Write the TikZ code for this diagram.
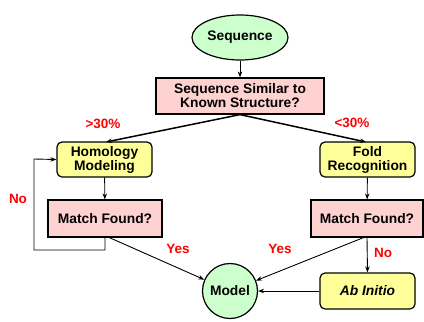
\documentclass[tikz,border=0pt]{standalone}
\usepackage{fontspec}
\setmainfont{Liberation Sans}
\usetikzlibrary{arrows.meta,shapes.geometric}
\definecolor{pgreen}{RGB}{204,255,204}
\definecolor{ppink}{RGB}{255,210,210}
\definecolor{pyellow}{RGB}{255,255,153}
\tikzset{
  x=1pt,y=-1pt,
  base/.style={draw=black,line width=1.2pt,font=\fontsize{13.8}{15}\selectfont\bfseries,align=center,inner sep=0pt},
  oval/.style={base,ellipse,fill=pgreen,minimum width=96pt,minimum height=45pt},
  circ/.style={base,circle,fill=pgreen,minimum size=55pt},
  decbox/.style={base,rectangle,fill=ppink},
  procbox/.style={base,rectangle,rounded corners=5pt,fill=pyellow,minimum width=95pt},
  arr/.style={-{Stealth[length=6pt,width=4.5pt]},line width=0.9pt},
  thick arr/.style={-{Stealth[length=6pt,width=4.5pt]},line width=1.5pt},
  lbl/.style={text=red,font=\fontsize{13.5}{15}\selectfont\bfseries,inner sep=0pt}
}
\begin{document}
\begin{tikzpicture}
\useasboundingbox (0,0) rectangle (424,322);
\node[oval] (seq) at (240,37.5) {Sequence};
\node[decbox,minimum width=168pt,minimum height=36pt] (sim) at (240,96) {Sequence Similar to\\[-1pt]Known Structure?};
\node[procbox,minimum height=35pt] (hom) at (104.5,159.5) {Homology\\[-1pt]Modeling};
\node[procbox,minimum height=35pt] (fold) at (367.5,159.5) {Fold\\[-1pt]Recognition};
\node[decbox,minimum width=114pt,minimum height=37pt] (mfl) at (105,218.5) {Match Found?};
\node[decbox,minimum width=112pt,minimum height=37pt] (mfr) at (367,218.5) {Match Found?};
\node[circ] (model) at (230,291) {Model};
\node[procbox,minimum height=36pt,font=\fontsize{13.8}{15}\selectfont\bfseries\itshape] (ab) at (367.5,291) {Ab Initio};
\coordinate (l1) at (105,250);
\coordinate (l2) at (34,250);
\coordinate (l3) at (34,159);
\draw[arr] (seq) -- (sim);
\draw[thick arr] (sim.south) -- (106,142);
\draw[thick arr] (sim.south) -- (366,142);
\draw[arr] (hom) -- (mfl);
\draw[arr] (fold) -- (mfr);
\draw[arr] (mfl.south) -- (l1) -- (l2) -- (l3) -- (hom.west);
\draw[arr] (108,237) -- (model);
\draw[arr] (365,237) -- (model);
\draw[arr] (mfr.south) -- (ab.north);
\draw[arr] (ab) -- (model);
\node[lbl] at (103,123.5) {>30\%};
\node[lbl] at (352,122.5) {<30\%};
\node[lbl] at (18,199) {No};
\node[lbl] at (178,249) {Yes};
\node[lbl] at (280,249) {Yes};
\node[lbl] at (383,253) {No};
\end{tikzpicture}
\end{document}
